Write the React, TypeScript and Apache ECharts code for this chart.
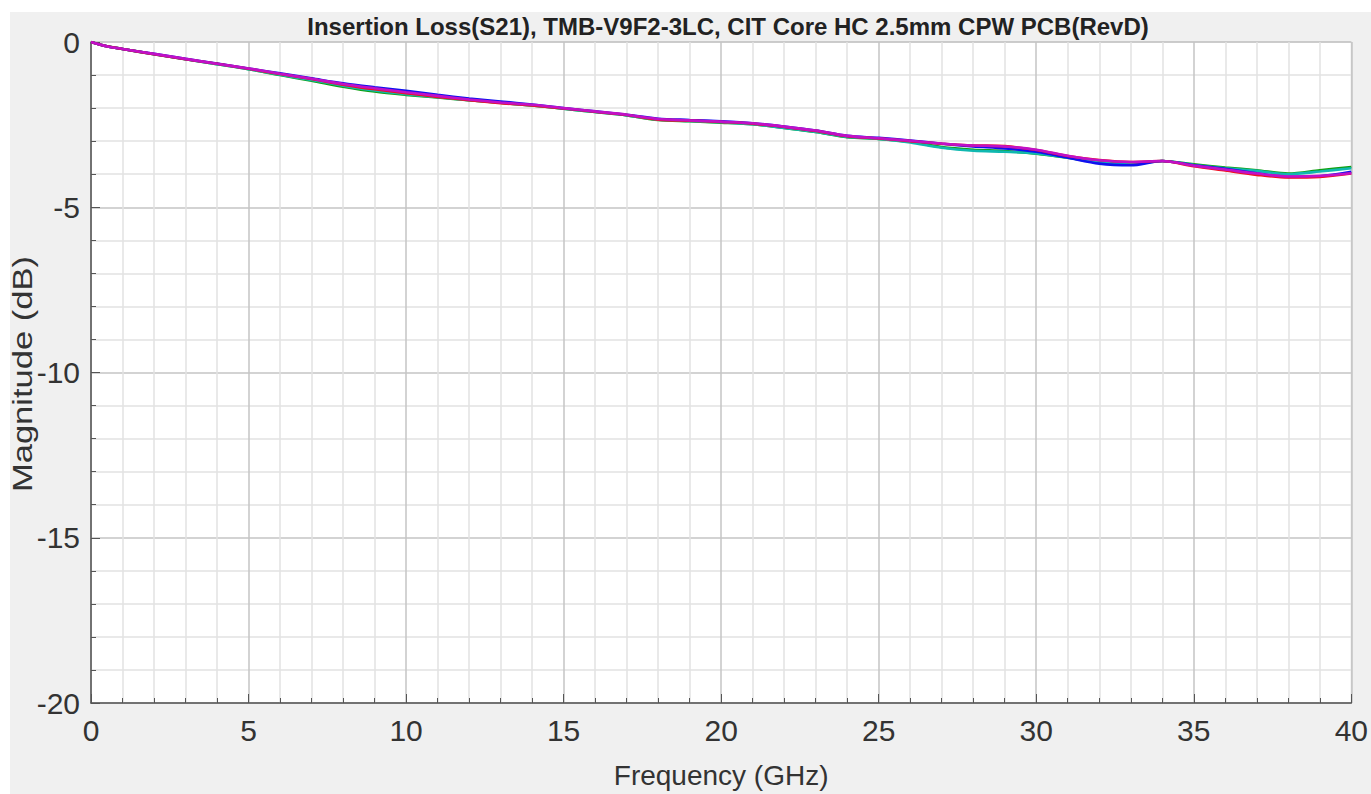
import React, { useEffect, useRef } from "react";
import * as echarts from "echarts";

const titleText = "Insertion Loss(S21), TMB-V9F2-3LC, CIT Core HC 2.5mm CPW PCB(RevD)";
const xAxisName = "Frequency (GHz)";
const yAxisName = "Magnitude (dB)";

const freq = [0, 0.5, 1, 2, 3, 4, 5, 6, 7, 8, 9, 10, 11, 12, 13, 14, 15, 16, 17, 18, 19, 20, 21, 22, 23, 24, 25, 26, 27, 28, 29, 30, 31, 32, 33, 34, 35, 36, 37, 38, 39, 40];

const green = [0, -0.13, -0.21, -0.37, -0.52, -0.67, -0.82, -1.0, -1.17, -1.35, -1.5, -1.6, -1.68, -1.76, -1.84, -1.92, -2.02, -2.12, -2.22, -2.36, -2.4, -2.44, -2.49, -2.6, -2.72, -2.88, -2.93, -3.02, -3.18, -3.26, -3.3, -3.38, -3.5, -3.64, -3.69, -3.6, -3.7, -3.8, -3.88, -3.98, -3.88, -3.78];
const cyan = [0, -0.13, -0.21, -0.37, -0.52, -0.67, -0.82, -0.99, -1.15, -1.32, -1.47, -1.58, -1.67, -1.76, -1.84, -1.92, -2.02, -2.12, -2.22, -2.35, -2.39, -2.43, -2.49, -2.6, -2.72, -2.87, -2.93, -3.04, -3.2, -3.29, -3.32, -3.37, -3.5, -3.65, -3.7, -3.6, -3.72, -3.82, -3.9, -4.0, -3.92, -3.82];
const red = [0, -0.13, -0.21, -0.37, -0.52, -0.66, -0.81, -0.97, -1.12, -1.29, -1.43, -1.55, -1.66, -1.76, -1.85, -1.92, -2.01, -2.11, -2.21, -2.35, -2.38, -2.42, -2.47, -2.57, -2.69, -2.85, -2.92, -3.0, -3.08, -3.13, -3.15, -3.27, -3.45, -3.57, -3.63, -3.6, -3.76, -3.89, -4.02, -4.1, -4.08, -3.98];
const blue = [0, -0.13, -0.21, -0.36, -0.51, -0.65, -0.8, -0.95, -1.1, -1.25, -1.37, -1.48, -1.6, -1.71, -1.8, -1.89, -2.0, -2.1, -2.2, -2.32, -2.36, -2.4, -2.46, -2.56, -2.68, -2.84, -2.9, -2.98, -3.08, -3.16, -3.22, -3.32, -3.5, -3.68, -3.73, -3.6, -3.73, -3.84, -3.97, -4.08, -4.06, -3.93];
const magenta = [0, -0.13, -0.21, -0.36, -0.51, -0.66, -0.8, -0.96, -1.11, -1.27, -1.4, -1.52, -1.63, -1.74, -1.83, -1.9, -2.0, -2.1, -2.2, -2.33, -2.37, -2.41, -2.46, -2.56, -2.68, -2.84, -2.91, -2.99, -3.07, -3.13, -3.16, -3.26, -3.44, -3.58, -3.63, -3.6, -3.74, -3.86, -3.98, -4.07, -4.05, -3.97];

const seriesDefs = [
  { name: "green", color: "#10a010", data: green },
  { name: "cyan", color: "#10b8b0", data: cyan },
  { name: "blue", color: "#1010f0", data: blue },
  { name: "red", color: "#f01020", data: red },
  { name: "magenta", color: "#c010c8", data: magenta },
];

export default function App() {
  const ref = useRef<HTMLDivElement>(null);
  useEffect(() => {
    if (!ref.current) return;
    const chart = echarts.init(ref.current, undefined, { renderer: "svg" });
    const font = "'Liberation Sans', Arial, sans-serif";
    chart.setOption({
      animation: false,
      backgroundColor: "#ffffff",
      graphic: [
        {
          type: "rect",
          z: -10,
          silent: true,
          shape: { x: 10, y: 12, width: 1361, height: 782 },
          style: { fill: "#f0f0f0" },
        },
        {
          type: "text",
          silent: true,
          x: 23,
          y: 374,
          rotation: Math.PI / 2,
          scaleX: 1.28,
          style: {
            text: yAxisName,
            fontFamily: font,
            fontSize: 27,
            fill: "#333",
            align: "center",
            verticalAlign: "middle",
          },
        },
      ],
      title: {
        text: titleText,
        left: 723,
        textAlign: "center",
        top: 9,
        textStyle: {
          fontFamily: font,
          fontWeight: "bold",
          fontSize: 24,
          color: "#222",
        },
      },
      grid: {
        left: 91,
        top: 42,
        width: 1265,
        height: 666,
        show: true,
        backgroundColor: "#ffffff",
        borderColor: "#c8c8c8",
        borderWidth: 1,
        containLabel: false,
      },
      xAxis: {
        type: "value",
        min: 0,
        max: 40,
        interval: 5,
        name: xAxisName,
        nameLocation: "middle",
        nameGap: 58,
        nameTextStyle: { fontFamily: font, fontSize: 28, color: "#333" },
        axisLine: { show: true, onZero: false, lineStyle: { color: "#555", width: 1.5 } },
        axisTick: { show: true, inside: true, length: 9, lineStyle: { color: "#555" } },
        minorTick: { show: true, splitNumber: 5, length: 5, lineStyle: { color: "#555" } },
        axisLabel: { fontFamily: font, fontSize: 30, color: "#333", margin: 12 },
        splitLine: { show: true, lineStyle: { color: "#c4c4c4", width: 1.5 } },
        minorSplitLine: { show: true, lineStyle: { color: "#e2e2e2", width: 1.5 } },
      },
      yAxis: {
        type: "value",
        min: -20,
        max: 0,
        interval: 5,
        axisLine: { show: true, onZero: false, lineStyle: { color: "#555", width: 1.5 } },
        axisTick: { show: true, inside: true, length: 9, lineStyle: { color: "#555" } },
        minorTick: { show: true, splitNumber: 5, length: 5, lineStyle: { color: "#555" } },
        axisLabel: { fontFamily: font, fontSize: 30, color: "#333", margin: 11 },
        splitLine: { show: true, lineStyle: { color: "#c4c4c4", width: 1.5 } },
        minorSplitLine: { show: true, lineStyle: { color: "#e2e2e2", width: 1.5 } },
      },
      series: seriesDefs.map((s) => ({
        type: "line",
        name: s.name,
        data: freq.map((f, i) => [f, s.data[i]]),
        smooth: 0.3,
        showSymbol: false,
        lineStyle: { color: s.color, width: 2.6 },
        itemStyle: { color: s.color },
      })),
    });
    return () => chart.dispose();
  }, []);
  return (
    <div
      ref={ref}
      style={{ position: "fixed", left: 0, top: 0, width: 1371, height: 794 }}
    />
  );
}
